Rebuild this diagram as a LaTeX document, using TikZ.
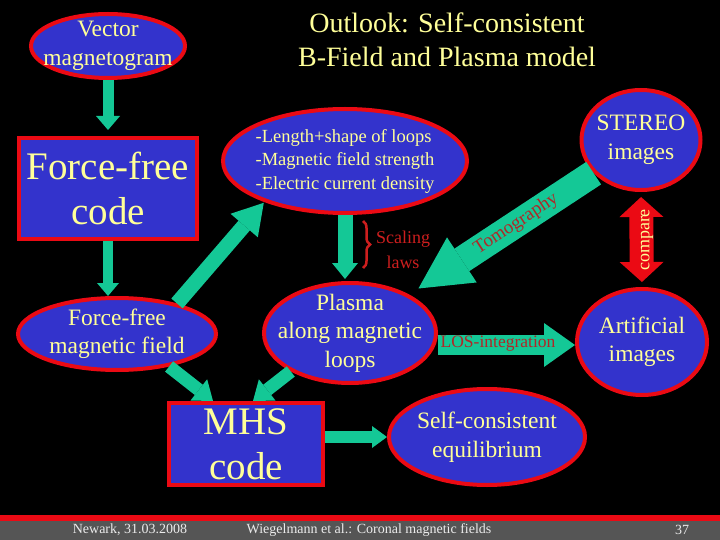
\documentclass[tikz,border=0pt]{standalone}
\usepackage{fontspec}
\setmainfont{Liberation Serif}
\usetikzlibrary{shapes.geometric,arrows.meta,decorations.pathreplacing}
\definecolor{bblue}{RGB}{51,51,204}
\definecolor{bred}{RGB}{235,10,20}
\definecolor{tealc}{RGB}{20,200,150}
\definecolor{yel}{RGB}{255,255,153}
\definecolor{dred}{RGB}{175,40,40}
\definecolor{sred}{RGB}{205,30,30}
\definecolor{fgray}{RGB}{85,85,85}
\definecolor{fwhite}{RGB}{235,235,235}
\begin{document}
\begin{tikzpicture}[x=1pt,y=-1pt,
 ell/.style={ellipse, draw=bred, fill=bblue, line width=4pt, inner sep=0pt},
 box/.style={rectangle, draw=bred, fill=bblue, line width=4pt, inner sep=0pt},
 lbl/.style={text=yel, align=center, inner sep=0pt, font=\fontsize{23.5}{28.5}\selectfont},
 biglbl/.style={text=yel, align=center, inner sep=0pt, font=\fontsize{39}{45}\selectfont},
 blk/.style n args={4}{draw=#4, line width=#1, -{Triangle[width=#2, length=#3, line width'=0pt]}},
 foot/.style={text=fwhite, inner sep=0pt, font=\fontsize{14}{16}\selectfont}
]
\useasboundingbox (0,0) rectangle (720,540);
\fill[black] (0,0) rectangle (720,540);
% footer
\fill[bred] (0,515) rectangle (720,521);
\fill[fgray] (0,521) rectangle (720,540);
\node[foot] (fn) at (130,530) {Newark, 31.03.2008};
\node[foot] (fw) at (369,530) {Wiegelmann et al.: Coronal magnetic fields};
\node[foot] (fp) at (682,530) {37};
% title
\node[text=yel, align=center, inner sep=0pt, font=\fontsize{28}{34}\selectfont] (title) at (447,40) {Outlook: Self-consistent\\B-Field and Plasma model};
% shapes
\node[ell, minimum width=154pt, minimum height=64pt] (vm) at (108,46) {};
\node[lbl] at (vm) {Vector\\magnetogram};
\node[box, minimum width=178pt, minimum height=101pt] (ffc) at (108,188.5) {};
\node[biglbl] at (ffc) {Force-free\\code};
\node[ell, minimum width=198pt, minimum height=72pt] (ffm) at (117,334) {};
\node[lbl] at (ffm) {Force-free\\magnetic field};
\node[ell, minimum width=244pt, minimum height=104pt] (len) at (345,161) {};
\node[text=yel, align=left, inner sep=0pt, font=\fontsize{18.5}{23.5}\selectfont] at (len) {-Length+shape of loops\\-Magnetic field strength\\-Electric current density};
\node[ell, minimum width=172pt, minimum height=100pt] (pl) at (350,333) {};
\node[lbl] at (pl) {Plasma\\along magnetic\\loops};
\node[ell, minimum width=119pt, minimum height=100pt] (st) at (641,140) {};
\node[lbl] at (st) {STEREO\\images};
\node[ell, minimum width=130pt, minimum height=106pt] (ai) at (642,342) {};
\node[lbl] at (ai) {Artificial\\images};
\node[box, minimum width=154pt, minimum height=82pt] (mhs) at (246,444) {};
\node[biglbl] at (mhs) {MHS\\code};
\node[ell, minimum width=196pt, minimum height=96pt] (sc) at (487,437) {};
\node[lbl] at (sc) {Self-consistent\\equilibrium};
% connectors
\draw[blk={11pt}{24pt}{14pt}{tealc}, shorten >=6pt] (vm.south) -- (vm.south |- ffc.north);
\draw[blk={10pt}{22pt}{13pt}{tealc}] (ffc.south) -- (ffc.south |- ffm.north);
\draw[blk={15pt}{36pt}{30pt}{tealc}, shorten >=1pt] (ffm.27) -- (len.207);
\draw[blk={13pt}{27pt}{18pt}{tealc}] (ffm.-32) -- ([xshift=-33pt]mhs.north);
\draw[blk={13pt}{27pt}{18pt}{tealc}] (pl.213) -- ([xshift=7pt]mhs.north);
\draw[blk={15pt}{26pt}{16pt}{tealc}, shorten >=2pt] (len.south) -- (len.south |- pl.north);
\draw[blk={27pt}{54pt}{52pt}{tealc}, shorten >=11pt] (st.215) -- (pl.33)
  node[pos=0.42, sloped, text=dred, inner sep=0pt, font=\fontsize{19}{19}\selectfont] (tomo) {Tomography};
\draw[bred, line width=24pt, {Triangle[width=44pt, length=20pt, line width'=0pt]}-{Triangle[width=44pt, length=20pt, line width'=0pt]}, shorten <=5pt, shorten >=5pt] (st.south) -- (ai.north);
\node[rotate=90, text=yel, inner sep=0pt, font=\fontsize{18}{18}\selectfont] (cmp) at (647,240) {compare};
\draw[blk={20pt}{44pt}{31pt}{tealc}] ([yshift=-12pt]pl.east) -- ([yshift=-12pt]pl.east -| ai.west);
\node[text=dred, inner sep=0pt, font=\fontsize{17.5}{18}\selectfont] (los) at (498,344) {LOS-integration};
\draw[blk={12pt}{22pt}{15pt}{tealc}] (mhs.east |- sc.west) -- (sc.west);
% scaling laws
\draw[sred, line width=2.5pt, decorate, decoration={brace, amplitude=7pt}] (363,221) -- (363,268);
\node[text=sred, align=center, inner sep=0pt, font=\fontsize{18}{25}\selectfont] (scl) at (403,250) {Scaling\\laws};
\end{tikzpicture}
\end{document}
